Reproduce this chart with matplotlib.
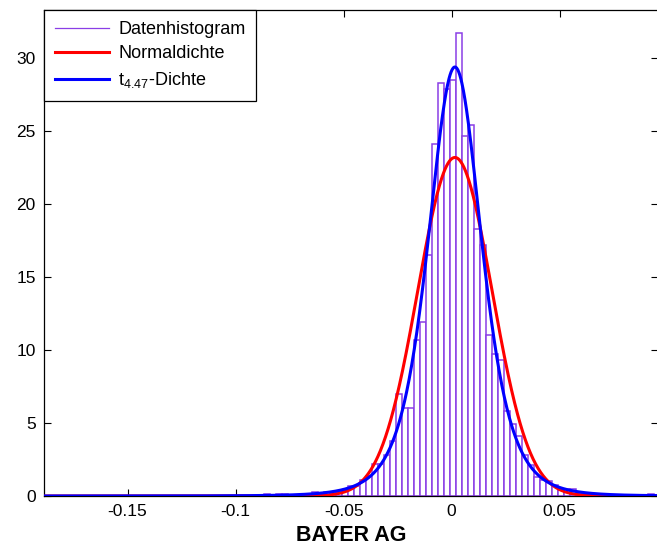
import math

import matplotlib
matplotlib.use("Agg")
import matplotlib.pyplot as plt
import numpy as np
from matplotlib.lines import Line2D

plt.rcParams["font.family"] = ["Liberation Sans", "DejaVu Sans"]
plt.rcParams["mathtext.default"] = "regular"
plt.rcParams["axes.unicode_minus"] = False

# daily log returns, histogram scaled to a density (bin width ~0.00278)
BIN_WIDTH = 0.00278
BIN_START = -0.07043          # left edge of the first bin below
HIST_DENSITY = [
    0.14, 0.14, 0.30, 0.14, 0.30, 0.30, 0.30, 0.40, 0.70, 0.70,
    1.10, 1.40, 2.20, 2.20, 2.80, 3.80, 7.00, 6.00, 6.00, 10.7,
    11.9, 16.5, 24.1, 28.3, 27.9, 28.5, 31.7, 24.7, 25.4, 18.3,
    17.2, 11.0, 9.70, 9.30, 5.80, 4.90, 4.10, 2.80, 2.10, 1.30,
    1.10, 1.00, 0.75, 0.40, 0.50, 0.50, 0.20, 0.14, 0.14, 0.00,
    0.14,
]
# a few isolated observations further out in the tails
TAIL_LEFT_EDGES = [-0.0871, -0.0815, -0.0787]
TAIL_RIGHT_EDGES = [0.0908]
TAIL_DENSITY = 0.14

# fitted densities
NORM_MU, NORM_SIGMA = 0.0015, 0.0172
T_DF, T_LOC, T_SCALE = 4.47, 0.0015, 0.01284

X_MIN, X_MAX = -0.1887, 0.0955
Y_MAX = 33.3

C_HIST, C_NORM, C_T = "#8a3ee6", "#ff0000", "#0000ff"


def normal_pdf(x, mu, sigma):
    return np.exp(-0.5 * ((x - mu) / sigma) ** 2) / (sigma * math.sqrt(2 * math.pi))


def t_pdf(x, df, loc, scale):
    c = math.gamma((df + 1) / 2) / (math.sqrt(df * math.pi) * math.gamma(df / 2))
    z = (x - loc) / scale
    return c * (1 + z ** 2 / df) ** (-(df + 1) / 2) / scale


fig = plt.figure(figsize=(6.57, 5.53), dpi=100, facecolor="white")
ax = fig.add_axes([44 / 657, 57 / 553, 614 / 657, 486 / 553])

edges = BIN_START + BIN_WIDTH * np.arange(len(HIST_DENSITY))
ax.bar(edges, HIST_DENSITY, width=BIN_WIDTH, align="edge", facecolor="white",
       edgecolor=C_HIST, linewidth=1.1, zorder=2)
tails = TAIL_LEFT_EDGES + TAIL_RIGHT_EDGES
ax.bar(tails, [TAIL_DENSITY] * len(tails), width=BIN_WIDTH, align="edge",
       facecolor="white", edgecolor=C_HIST, linewidth=1.1, zorder=2)

xs = np.linspace(X_MIN, X_MAX, 1200)
ax.plot(xs, normal_pdf(xs, NORM_MU, NORM_SIGMA), color=C_NORM, lw=2.2, zorder=3)
ax.plot(xs, t_pdf(xs, T_DF, T_LOC, T_SCALE), color=C_T, lw=2.2, zorder=4)

ax.set_xlim(X_MIN, X_MAX)
ax.set_ylim(0, Y_MAX)
ax.set_xticks([-0.15, -0.1, -0.05, 0, 0.05])
ax.set_xticklabels(["-0.15", "-0.1", "-0.05", "0", "0.05"])
ax.set_yticks([0, 5, 10, 15, 20, 25, 30])
ax.tick_params(direction="in", length=5, width=0.8, top=True, right=True,
               labelsize=12.5, pad=6)
for spine in ax.spines.values():
    spine.set_linewidth(0.9)
ax.set_xlabel("BAYER AG", fontsize=15.5, fontweight="bold", labelpad=4)

handles = [
    Line2D([], [], color=C_HIST, lw=0.9),
    Line2D([], [], color=C_NORM, lw=2.2),
    Line2D([], [], color=C_T, lw=2.2),
]
labels = ["Datenhistogram", "Normaldichte", "t$_{4.47}$-Dichte"]
leg = ax.legend(handles, labels, loc="upper left", bbox_to_anchor=(0, 1),
                borderaxespad=0, fancybox=False, edgecolor="black", framealpha=1,
                fontsize=13, handlelength=3.0, handletextpad=0.5,
                labelspacing=0.42, borderpad=0.6)
leg.get_frame().set_linewidth(0.9)

fig.savefig("out.png", dpi=100, facecolor="white")
